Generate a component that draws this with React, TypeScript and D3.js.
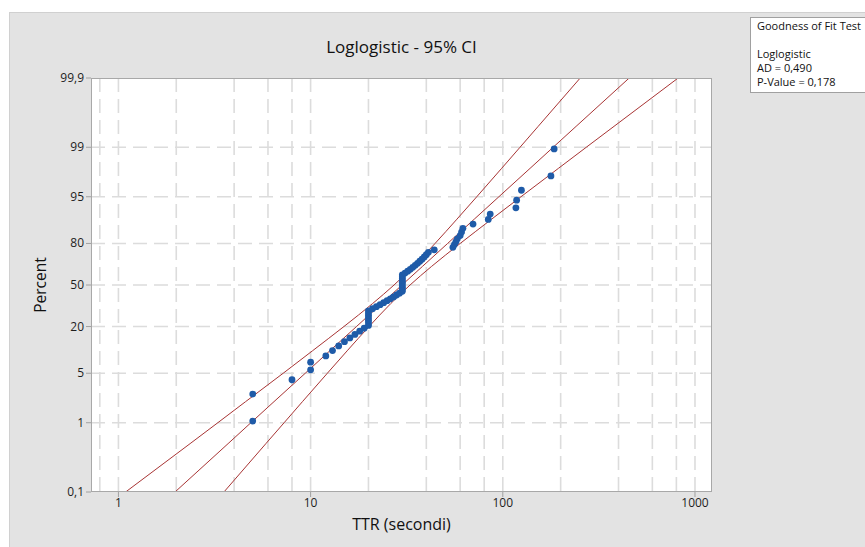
import React, { useEffect, useRef } from 'react';
import * as d3 from 'd3';

const ttrValues = [
  5, 5, 8, 10, 10, 12, 13, 14, 15, 16, 17, 18, 19,
  20, 20, 20, 20, 20, 20, 20,
  21, 22, 23, 24, 25, 26, 27, 28, 29,
  30, 30, 30, 30, 30, 30, 30, 30, 30, 30,
  31, 32, 33, 34, 35, 36, 37, 38, 39, 40, 41, 44,
  55, 56, 57, 58, 60, 61, 62, 70, 84, 86, 117, 118, 125, 178, 185,
];

// fitted loglogistic line and 95% CI, TTR at given percents
const ciPercents = [0.1, 0.5, 1, 2, 5, 10, 20, 35, 50, 65, 80, 90, 95, 98, 99, 99.5, 99.9];
const fitTTR = [1.97, 3.72, 4.89, 6.45, 9.38, 12.58, 17.32, 23.43, 29.9, 38.17, 51.64, 71.06, 95.39, 138.6, 182.8, 240.7, 454.6];
const lowerTTR = [1.09, 2.36, 3.29, 4.59, 7.2, 10.22, 14.9, 21.01, 27.17, 34.22, 44.41, 57.73, 73.2, 98.61, 122.9, 152.8, 252.8];
const upperTTR = [3.54, 5.85, 7.28, 9.07, 12.22, 15.49, 20.14, 26.13, 32.92, 42.57, 60.03, 87.47, 124.3, 194.7, 271.8, 379, 817.3];

const yTickValues = [0.1, 1, 5, 20, 50, 80, 95, 99, 99.9];
const yTickLabels = ['0,1', '1', '5', '20', '50', '80', '95', '99', '99,9'];
const xTickValues = [1, 10, 100, 1000];
const xTickLabels = ['1', '10', '100', '1000'];
const xGridValues = [0.8, 1, 2, 4, 6, 8, 10, 20, 40, 60, 80, 100, 200, 400, 600, 800, 1000];

const gofLines = ['Goodness of Fit Test', '', 'Loglogistic', 'AD = 0,490', 'P-Value = 0,178'];

const FONT = "'Segoe UI', 'Open Sans', 'Noto Sans', sans-serif";

function App() {
  const svgRef = useRef(null);

  const width = 865;
  const height = 547;
  const plot = { left: 91, top: 78, right: 712, bottom: 492 };

  useEffect(() => {
    const svg = d3.select(svgRef.current);
    svg.selectAll('*').remove();

    const logit = (p: number) => Math.log(p / (1 - p));
    const x = d3.scaleLog().domain([0.72, 1226]).range([plot.left, plot.right]);
    const yLin = d3.scaleLinear()
      .domain([logit(0.001), logit(0.999)])
      .range([plot.bottom, plot.top]);
    const y = (pct: number) => yLin(logit(pct / 100));

    // grey panel
    svg.append('rect')
      .attr('x', 9.5).attr('y', 12.5)
      .attr('width', width - 9).attr('height', height - 12)
      .attr('fill', '#e3e3e3')
      .attr('stroke', '#d0d0d0');

    // plot area
    svg.append('rect')
      .attr('x', plot.left).attr('y', plot.top)
      .attr('width', plot.right - plot.left).attr('height', plot.bottom - plot.top)
      .attr('fill', '#ffffff');

    svg.append('defs').append('clipPath').attr('id', 'plotclip')
      .append('rect')
      .attr('x', plot.left).attr('y', plot.top)
      .attr('width', plot.right - plot.left).attr('height', plot.bottom - plot.top);

    const grid = svg.append('g')
      .attr('stroke', '#dcdcdc')
      .attr('stroke-width', 1.6)
      .attr('stroke-dasharray', '14,7');

    grid.selectAll('.hgrid')
      .data(yTickValues.slice(1, -1))
      .enter()
      .append('line')
      .attr('x1', plot.left).attr('x2', plot.right)
      .attr('y1', d => y(d)).attr('y2', d => y(d));

    grid.selectAll('.vgrid')
      .data(xGridValues)
      .enter()
      .append('line')
      .attr('x1', d => x(d)).attr('x2', d => x(d))
      .attr('y1', plot.top).attr('y2', plot.bottom);

    // fit line + CI
    const lines = svg.append('g').attr('clip-path', 'url(#plotclip)');
    [lowerTTR, fitTTR, upperTTR].forEach(series => {
      const line = d3.line<number>()
        .x((d, i) => x(series[i]))
        .y(d => y(d))
        .curve(d3.curveMonotoneY);
      lines.append('path')
        .datum(ciPercents)
        .attr('d', line)
        .attr('fill', 'none')
        .attr('stroke', '#a83434')
        .attr('stroke-width', 1);
    });

    // data points, Benard median ranks
    const n = ttrValues.length;
    svg.append('g')
      .selectAll('circle')
      .data(ttrValues)
      .enter()
      .append('circle')
      .attr('cx', d => x(d))
      .attr('cy', (d, i) => y(((i + 1 - 0.3) / (n + 0.4)) * 100))
      .attr('r', 3.4)
      .attr('fill', '#1f5ba8');

    // frame
    svg.append('rect')
      .attr('x', plot.left + 0.5).attr('y', plot.top + 0.5)
      .attr('width', plot.right - plot.left - 1).attr('height', plot.bottom - plot.top - 1)
      .attr('fill', 'none')
      .attr('stroke', '#a8a8a8');

    // y axis
    const yAxis = svg.append('g');
    yAxis.selectAll('line')
      .data(yTickValues)
      .enter()
      .append('line')
      .attr('x1', plot.left - 5).attr('x2', plot.left)
      .attr('y1', d => y(d)).attr('y2', d => y(d))
      .attr('stroke', '#a0a0a0');
    yAxis.selectAll('text')
      .data(yTickValues)
      .enter()
      .append('text')
      .attr('x', plot.left - 7)
      .attr('y', d => y(d) + 4)
      .attr('text-anchor', 'end')
      .attr('font-family', FONT)
      .attr('font-size', 12)
      .attr('fill', '#1e1e1e')
      .text((d, i) => yTickLabels[i]);

    // x axis
    const xAxis = svg.append('g');
    xAxis.selectAll('line')
      .data(xTickValues)
      .enter()
      .append('line')
      .attr('x1', d => x(d)).attr('x2', d => x(d))
      .attr('y1', plot.bottom).attr('y2', plot.bottom + 5)
      .attr('stroke', '#a0a0a0');
    xAxis.selectAll('text')
      .data(xTickValues)
      .enter()
      .append('text')
      .attr('x', d => x(d))
      .attr('y', plot.bottom + 15)
      .attr('text-anchor', 'middle')
      .attr('font-family', FONT)
      .attr('font-size', 12)
      .attr('fill', '#1e1e1e')
      .text((d, i) => xTickLabels[i]);

    // titles
    svg.append('text')
      .attr('x', (plot.left + plot.right) / 2)
      .attr('y', 53)
      .attr('text-anchor', 'middle')
      .attr('font-family', FONT)
      .attr('font-size', 17)
      .attr('fill', '#111')
      .text('Loglogistic - 95% CI');

    svg.append('text')
      .attr('x', (plot.left + plot.right) / 2)
      .attr('y', 530)
      .attr('text-anchor', 'middle')
      .attr('font-family', FONT)
      .attr('font-size', 16)
      .attr('fill', '#111')
      .text('TTR (secondi)');

    svg.append('text')
      .attr('transform', `translate(46,${(plot.top + plot.bottom) / 2}) rotate(-90)`)
      .attr('text-anchor', 'middle')
      .attr('font-family', FONT)
      .attr('font-size', 15.5)
      .attr('fill', '#111')
      .text('Percent');

    // goodness of fit box
    svg.append('rect')
      .attr('x', 750.5).attr('y', 17.5)
      .attr('width', 130).attr('height', 75)
      .attr('fill', '#ffffff')
      .attr('stroke', '#a0a0a0');
    svg.append('g')
      .selectAll('text')
      .data(gofLines)
      .enter()
      .append('text')
      .attr('x', 757)
      .attr('y', (d, i) => 30 + i * 14)
      .attr('font-family', FONT)
      .attr('font-size', 11)
      .attr('fill', '#111')
      .text(d => d);
  }, []);

  return (
    <svg ref={svgRef} width={width} height={height}
      style={{ position: 'absolute', left: 0, top: 0, background: '#ffffff' }}></svg>
  );
}

export default App;
